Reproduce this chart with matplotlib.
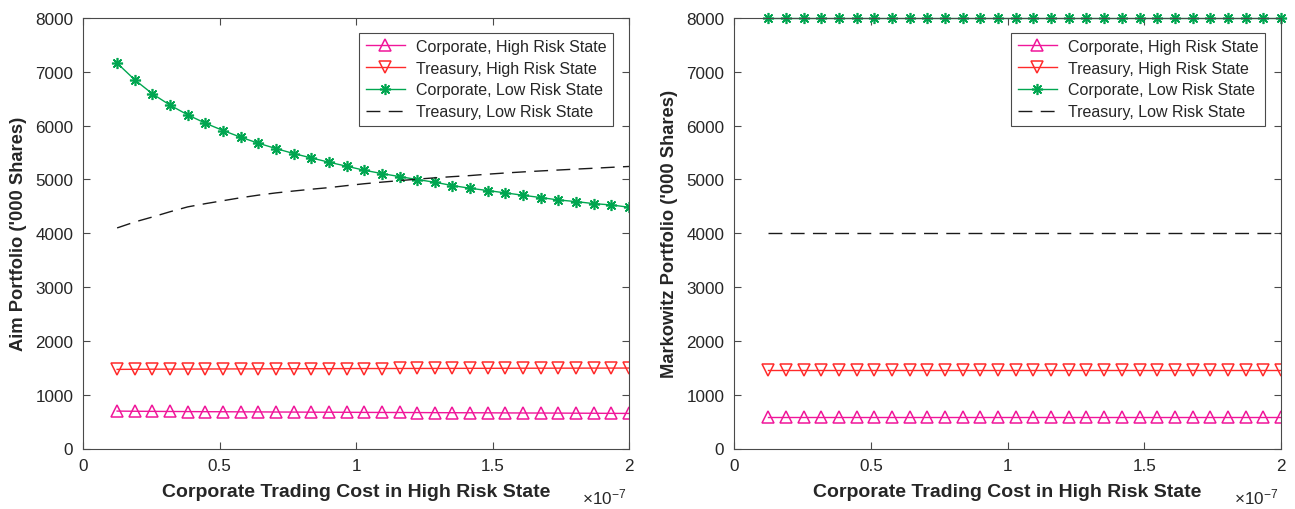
import numpy as np
import matplotlib
matplotlib.use("Agg")
import matplotlib.pyplot as plt
from matplotlib.ticker import FuncFormatter

plt.rcParams['font.family'] = ['Liberation Sans', 'DejaVu Sans']
plt.rcParams['mathtext.fontset'] = 'custom'
plt.rcParams['mathtext.rm'] = 'Liberation Sans'
plt.rcParams['mathtext.it'] = 'Liberation Sans'

# ---- data ----
# Corporate trading cost in high risk state (units of 1e-7)
cost_e7 = [0.125, 0.1897, 0.2543, 0.3190, 0.3836, 0.4483, 0.5129, 0.5776, 0.6422, 0.7069,
           0.7716, 0.8362, 0.9009, 0.9655, 1.0302, 1.0948, 1.1595, 1.2241, 1.2888, 1.3534,
           1.4181, 1.4828, 1.5474, 1.6121, 1.6767, 1.7414, 1.8060, 1.8707, 1.9353, 2.0]

aim_corp_high = [695, 692, 690, 688, 686, 684, 683, 681, 680, 678,
                 677, 675, 674, 673, 671, 670, 669, 668, 666, 665,
                 664, 663, 661, 660, 659, 658, 656, 655, 653, 652]
aim_treas_high = [1470, 1472, 1474, 1475, 1476, 1477, 1478, 1479, 1480, 1481,
                  1482, 1483, 1484, 1485, 1486, 1486, 1487, 1488, 1488, 1489,
                  1490, 1490, 1491, 1492, 1492, 1493, 1493, 1494, 1494, 1495]
aim_corp_low = [7161, 6851, 6591, 6380, 6200, 6045, 5909, 5785, 5673, 5574,
                5481, 5400, 5320, 5246, 5171, 5109, 5053, 4998, 4948, 4886,
                4836, 4793, 4750, 4706, 4663, 4619, 4588, 4551, 4526, 4483]
aim_treas_low = [4099, 4210, 4302, 4400, 4490, 4550, 4605, 4660, 4708, 4750,
                 4785, 4818, 4848, 4885, 4920, 4950, 4978, 5005, 5030, 5052,
                 5072, 5098, 5120, 5140, 5158, 5175, 5192, 5208, 5225, 5241]

mk_corp_high = [585] * 30
mk_treas_high = [1468] * 30
mk_corp_low = [8000] * 30
mk_treas_low = [4000] * 30

labels = ['Corporate, High Risk State', 'Treasury, High Risk State',
          'Corporate, Low Risk State', 'Treasury, Low Risk State']
ylabels = ["Aim Portfolio ('000 Shares)", "Markowitz Portfolio ('000 Shares)"]
xlabel = 'Corporate Trading Cost in High Risk State'
xticks_e7 = [0, 0.5, 1, 1.5, 2]
yticks = [0, 1000, 2000, 3000, 4000, 5000, 6000, 7000, 8000]

x = np.array(cost_e7) * 1e-7

C_MAG = '#F0169A'
C_RED = '#FF2A2A'
C_GRN = '#00A650'
C_BLK = '#1A1A1A'
C_AX = '#4A4A4A'
C_TXT = '#262626'

fig = plt.figure(figsize=(12.95, 5.10), dpi=100)
ax1 = fig.add_axes([83 / 1295, 1 - 449.5 / 510, 546 / 1295, 430.5 / 510])
ax2 = fig.add_axes([734 / 1295, 1 - 449.5 / 510, 547 / 1295, 430.5 / 510])

def draw(ax, ch, th, cl, tl, ylab, clip_top):
    ax.plot(x, ch, color=C_MAG, lw=1.0, marker='^', ms=8, mfc='none', mew=1.1,
            label=labels[0])
    ax.plot(x, th, color=C_RED, lw=1.0, marker='v', ms=8, mfc='none', mew=1.1,
            label=labels[1])
    ax.plot(x, cl, color=C_GRN, lw=1.0, marker=(8, 2, 0), ms=8, mew=1.2,
            label=labels[2], clip_on=clip_top)
    ax.plot(x, tl, color=C_BLK, lw=1.0, dashes=(10, 6), label=labels[3])
    ax.set_xlim(0, 2e-7)
    ax.set_ylim(0, 8000)
    ax.set_xticks([v * 1e-7 for v in xticks_e7])
    ax.xaxis.set_major_formatter(FuncFormatter(lambda v, p: ('%g' % round(v * 1e7, 6))))
    ax.set_yticks(yticks)
    ax.tick_params(direction='in', length=5, width=0.8, colors=C_AX, labelcolor=C_TXT,
                   labelsize=12.3, top=True, right=True, pad=7)
    for s in ax.spines.values():
        s.set_color(C_AX)
        s.set_linewidth(0.8)
    ax.set_xlabel(xlabel, fontsize=14, fontweight='bold', color=C_TXT, labelpad=7)
    ax.set_ylabel(ylab, fontsize=13.2, fontweight='bold', color=C_TXT, labelpad=6)
    ax.text(0.995, -0.112, r'$\times10^{-7}$', transform=ax.transAxes, ha='right',
            va='center', fontsize=12.3, color=C_TXT)
    leg = ax.legend(loc='upper right', bbox_to_anchor=(0.971, 0.966), fontsize=11.5,
                    frameon=True, fancybox=False, framealpha=1, edgecolor=C_AX,
                    borderpad=0.4, labelspacing=0.42, handlelength=2.45,
                    handletextpad=0.7, borderaxespad=0, numpoints=1)
    leg.get_frame().set_linewidth(0.8)
    for t in leg.get_texts():
        t.set_color(C_TXT)

draw(ax1, aim_corp_high, aim_treas_high, aim_corp_low, aim_treas_low, ylabels[0], True)
draw(ax2, mk_corp_high, mk_treas_high, mk_corp_low, mk_treas_low, ylabels[1], False)

fig.savefig('out.png', dpi=100)
